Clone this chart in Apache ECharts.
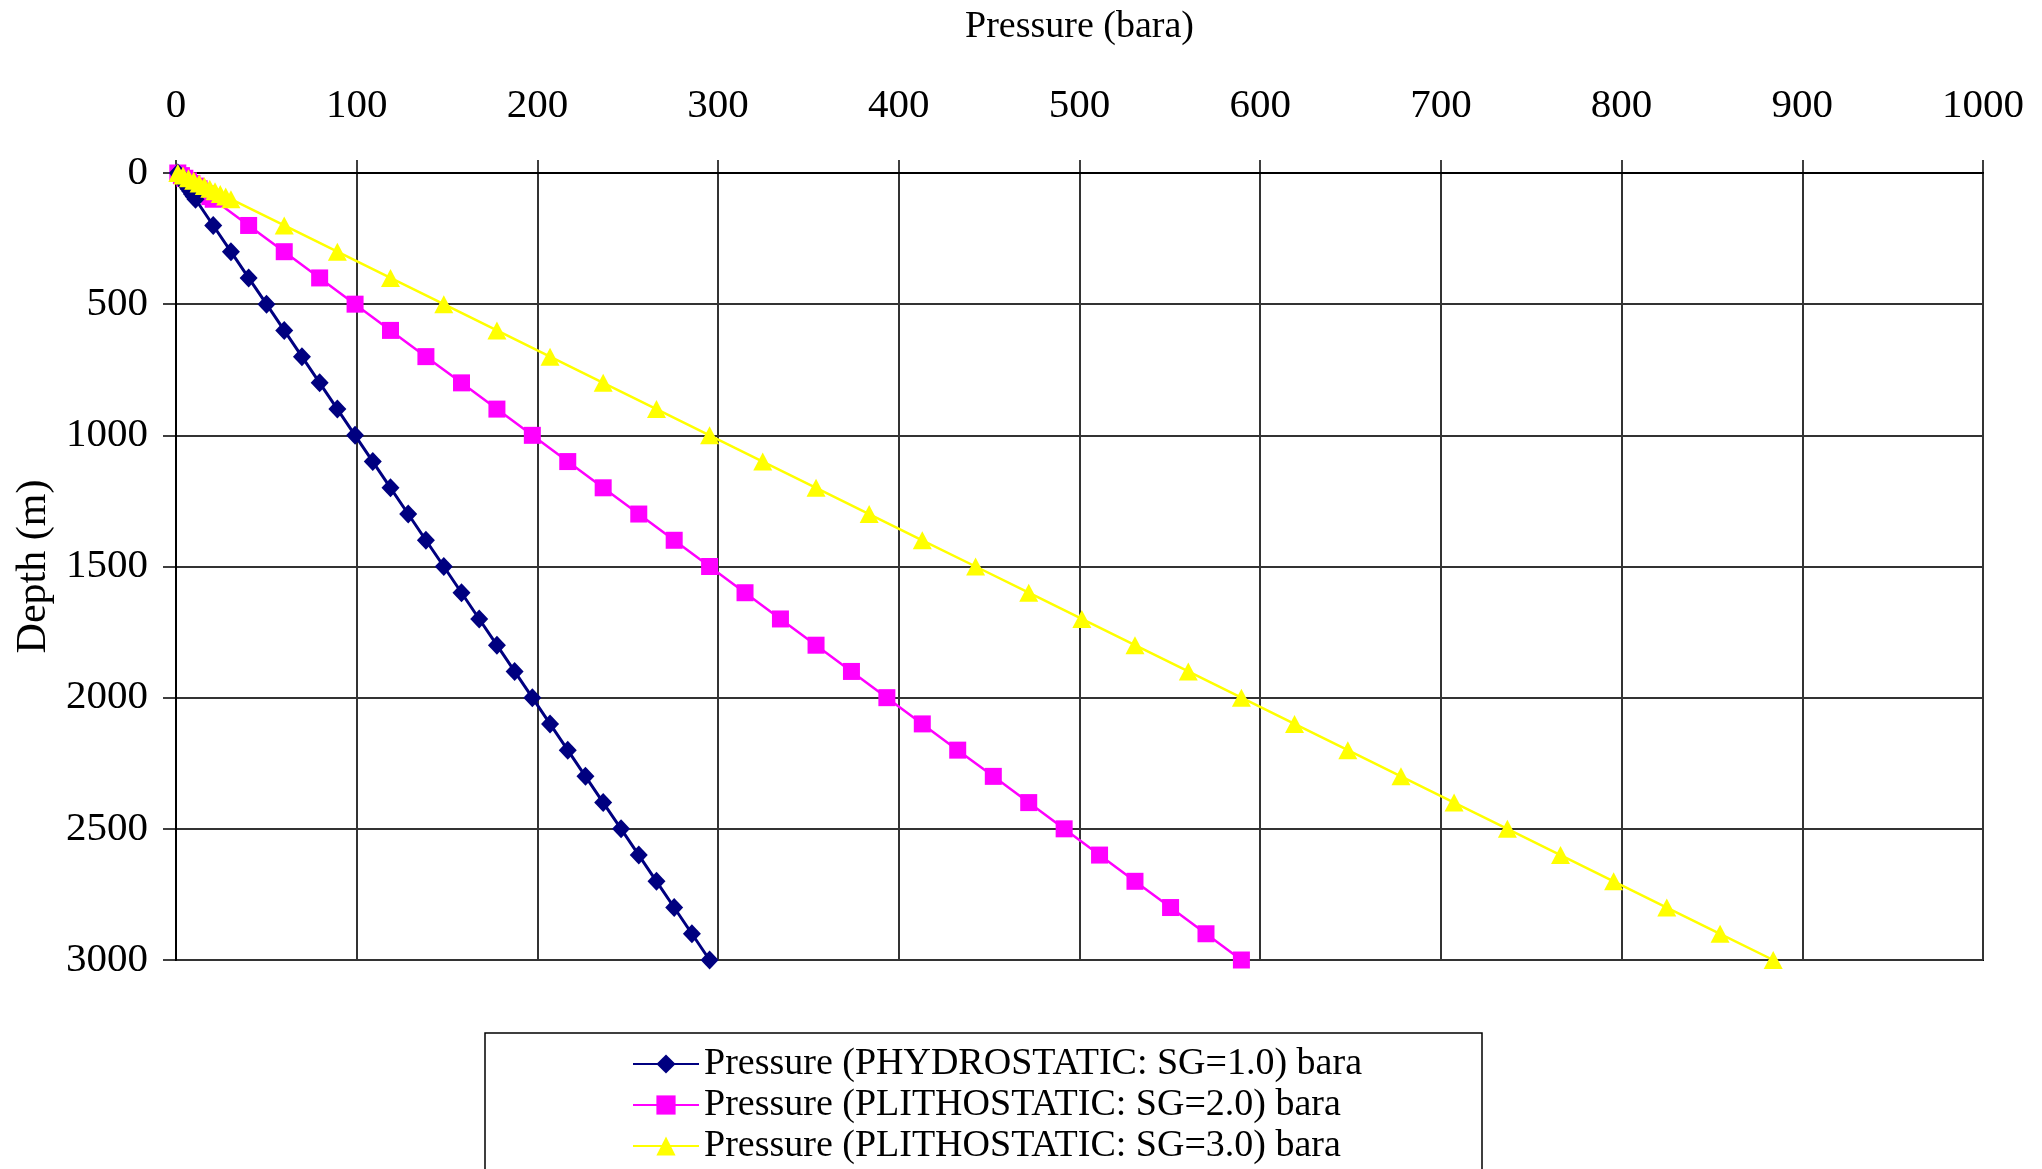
<!DOCTYPE html>
<html>
<head>
<meta charset="utf-8">
<script src="https://cdn.jsdelivr.net/npm/echarts@6/dist/echarts.min.js"></script>
<style>
html,body{margin:0;padding:0;background:#fff;}
#chart{width:2042px;height:1169px;}
</style>
</head>
<body>
<div id="chart"></div>
<script>
// Depth (m) at which each point is plotted
const depths = [0, 10, 20, 30, 40, 50, 60, 70, 80, 90, 100,
  200, 300, 400, 500, 600, 700, 800, 900, 1000,
  1100, 1200, 1300, 1400, 1500, 1600, 1700, 1800, 1900, 2000,
  2100, 2200, 2300, 2400, 2500, 2600, 2700, 2800, 2900, 3000];

// Pressure (bara) per series
const hydroSG1 = [1.0, 2.0, 3.0, 3.9, 4.9, 5.9, 6.9, 7.9, 8.8, 9.8, 10.8,
  20.6, 30.4, 40.2, 50.1, 59.9, 69.7, 79.5, 89.3, 99.1,
  108.9, 118.7, 128.5, 138.3, 148.2, 158.0, 167.8, 177.6, 187.4, 197.2,
  207.0, 216.8, 226.6, 236.4, 246.3, 256.1, 265.9, 275.7, 285.5, 295.3];

const lithoSG2 = [1.0, 3.0, 4.9, 6.9, 8.8, 10.8, 12.8, 14.7, 16.7, 18.7, 20.6,
  40.2, 59.9, 79.5, 99.1, 118.7, 138.3, 158.0, 177.6, 197.2,
  216.8, 236.4, 256.1, 275.7, 295.3, 314.9, 334.5, 354.2, 373.8, 393.4,
  413.0, 432.6, 452.3, 471.9, 491.5, 511.1, 530.7, 550.4, 570.0, 589.6];

const lithoSG3 = [1.0, 3.9, 6.9, 9.8, 12.8, 15.7, 18.7, 21.6, 24.5, 27.5, 30.4,
  59.9, 89.3, 118.7, 148.2, 177.6, 207.0, 236.4, 265.9, 295.3,
  324.7, 354.2, 383.6, 413.0, 442.5, 471.9, 501.3, 530.7, 560.2, 589.6,
  619.0, 648.5, 677.9, 707.3, 736.8, 766.2, 795.6, 825.0, 854.5, 883.9];

const seriesNames = [
  'Pressure (PHYDROSTATIC: SG=1.0) bara',
  'Pressure (PLITHOSTATIC: SG=2.0) bara',
  'Pressure (PLITHOSTATIC: SG=3.0) bara'
];

const xAxisTitle = 'Pressure (bara)';
const yAxisTitle = 'Depth (m)';

const FONT = '"Liberation Serif", "Times New Roman", serif';

function pairs(values) {
  return values.map((v, i) => [v, depths[i]]);
}

const chart = echarts.init(document.getElementById('chart'), null, {renderer: 'canvas'});

chart.setOption({
  backgroundColor: '#ffffff',
  animation: false,
  grid: {
    left: 176, right: 59, top: 173, bottom: 209,
    show: true, borderColor: '#000', borderWidth: 2, backgroundColor: 'transparent'
  },
  graphic: [{
    type: 'rect', silent: true, z: -1,
    shape: {x: 485, y: 1033, width: 997, height: 220},
    style: {fill: '#fff', stroke: '#000', lineWidth: 1.5}
  }],
  xAxis: {
    type: 'value', position: 'top',
    min: 0, max: 1000, interval: 100,
    name: xAxisTitle, nameLocation: 'middle', nameGap: 127,
    nameTextStyle: {fontFamily: FONT, fontSize: 38, color: '#000'},
    axisLine: {show: true, lineStyle: {color: '#000', width: 2}},
    axisTick: {show: true, inside: false, length: 13, lineStyle: {color: '#000', width: 1.5}},
    axisLabel: {fontFamily: FONT, fontSize: 41, color: '#000', margin: 46,
      formatter: v => String(v)},
    splitLine: {show: true, lineStyle: {color: '#333', width: 2}}
  },
  yAxis: {
    type: 'value', inverse: true,
    min: 0, max: 3000, interval: 500,
    name: yAxisTitle, nameLocation: 'middle', nameGap: 116, nameRotate: 90,
    nameTextStyle: {fontFamily: FONT, fontSize: 42, color: '#000'},
    axisLine: {show: true, lineStyle: {color: '#000', width: 2}},
    axisTick: {show: true, inside: false, length: 13, lineStyle: {color: '#000', width: 1.5}},
    axisLabel: {fontFamily: FONT, fontSize: 41, color: '#000', margin: 28,
      formatter: v => String(v)},
    splitLine: {show: true, lineStyle: {color: '#333', width: 2}}
  },
  legend: {
    orient: 'vertical',
    left: 632, top: 1045,
    padding: 0,
    itemWidth: 66, itemHeight: 24, itemGap: 3,
    textStyle: {fontFamily: FONT, fontSize: 38, lineHeight: 38, color: '#000'},
    data: seriesNames
  },
  series: [
    {
      name: seriesNames[0], type: 'line', data: pairs(hydroSG1),
      symbol: 'diamond', symbolSize: [18, 19],
      lineStyle: {color: '#000080', width: 3},
      itemStyle: {color: '#000080'},
      z: 5
    },
    {
      name: seriesNames[1], type: 'line', data: pairs(lithoSG2),
      symbol: 'rect', symbolSize: 17,
      lineStyle: {color: '#ff00ff', width: 2.5},
      itemStyle: {color: '#ff00ff'},
      z: 4
    },
    {
      name: seriesNames[2], type: 'line', data: pairs(lithoSG3),
      symbol: 'triangle', symbolSize: [19, 18],
      lineStyle: {color: '#ffff00', width: 2.5},
      itemStyle: {color: '#ffff00'},
      z: 6
    }
  ]
});
</script>
</body>
</html>
